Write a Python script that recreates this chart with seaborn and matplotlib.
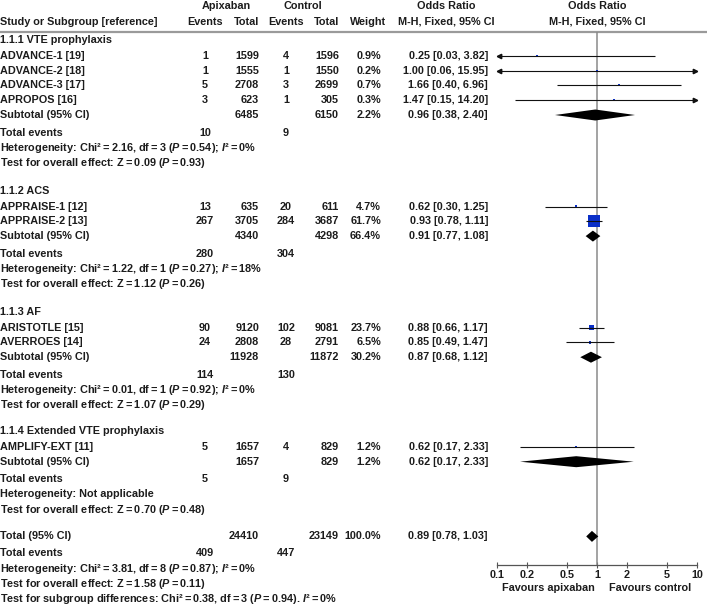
import matplotlib
matplotlib.use("Agg")
import matplotlib.pyplot as plt
import numpy as np
import pandas as pd
import seaborn as sns

# ---- data ----
group_names = [
    "1.1.1 VTE prophylaxis",
    "1.1.2 ACS",
    "1.1.3 AF",
    "1.1.4 Extended VTE prophylaxis",
]
study_names = [
    "ADVANCE-1 [19]", "ADVANCE-2 [18]", "ADVANCE-3 [17]", "APROPOS [16]",
    "APPRAISE-1 [12]", "APPRAISE-2 [13]",
    "ARISTOTLE [15]", "AVERROES [14]",
    "AMPLIFY-EXT [11]",
]
study_group = [0, 0, 0, 0, 1, 1, 2, 2, 3]
apix_events = [1, 1, 5, 3, 13, 267, 90, 24, 5]
apix_total = [1599, 1555, 2708, 623, 635, 3705, 9120, 2808, 1657]
ctrl_events = [4, 1, 3, 1, 20, 284, 102, 28, 4]
ctrl_total = [1596, 1550, 2699, 305, 611, 3687, 9081, 2791, 829]
weights = [0.9, 0.2, 0.7, 0.3, 4.7, 61.7, 23.7, 6.5, 1.2]
odds = [0.25, 1.00, 1.66, 1.47, 0.62, 0.93, 0.88, 0.85, 0.62]
ci_low = [0.03, 0.06, 0.40, 0.15, 0.30, 0.78, 0.66, 0.49, 0.17]
ci_high = [3.82, 15.95, 6.96, 14.20, 1.25, 1.11, 1.17, 1.47, 2.33]

sub_apix_total = [6485, 4340, 11928, 1657]
sub_ctrl_total = [6150, 4298, 11872, 829]
sub_apix_events = [10, 280, 114, 5]
sub_ctrl_events = [9, 304, 130, 9]
sub_weight = [2.2, 66.4, 30.2, 1.2]
sub_odds = [0.96, 0.91, 0.87, 0.62]
sub_low = [0.38, 0.77, 0.68, 0.17]
sub_high = [2.40, 1.08, 1.12, 2.33]
het_chi = [2.16, 1.22, 0.01, None]
het_df = [3, 1, 1, None]
het_p = [0.54, 0.27, 0.92, None]
het_i2 = [0, 18, 0, None]
z_val = [0.09, 1.12, 1.07, 0.70]
z_p = [0.93, 0.26, 0.29, 0.48]

total_apix, total_ctrl = 24410, 23149
total_apix_events, total_ctrl_events = 409, 447
total_odds, total_low, total_high = 0.89, 0.78, 1.03
total_het = (3.81, 8, 0.87, 0)
total_z = (1.58, 0.11)
subgroup_diff = (0.38, 3, 0.94, 0)

x_ticks = [0.1, 0.2, 0.5, 1, 2, 5, 10]
x_tick_labels = ["0.1", "0.2", "0.5", "1", "2", "5", "10"]

# ---- style ----
W, H = 707, 605
FS = 7.8
TXT = "#1c1c1c"
BLUE = "#0a2fc8"
GRID = "#8a8a8a"
FONT = "Liberation Sans"
EQ = "\u2009=\u2009"

sns.set_theme(style="white")
plt.rcParams["font.family"] = [FONT, "DejaVu Sans"]
plt.rcParams["mathtext.fontset"] = "custom"
plt.rcParams["mathtext.rm"] = FONT + ":bold"
plt.rcParams["mathtext.it"] = FONT + ":italic:bold"
plt.rcParams["mathtext.bf"] = FONT + ":bold"

# column anchors in pixels
X_AE, X_AT, X_CE, X_CT, X_WT, X_OR = 205, 259, 286, 339, 381, 488
PLOT_L, PLOT_R, PLOT_TOP, PLOT_BOT = 497, 697, 32, 565


def build_rows():
    """Assign a vertical pixel position to every row of the table."""
    gaps = [27.8, 27.8, 26.0, 26.8]
    rows = []
    y = 40.0
    for g in range(len(group_names)):
        rows.append(("group", g, y))
        y += 15.8
        for i, sg in enumerate(study_group):
            if sg == g:
                rows.append(("study", i, y))
                y += 14.8
        rows.append(("subtotal", g, y))
        y += 17.5
        rows.append(("events", g, y))
        y += 15.2
        rows.append(("het", g, y))
        y += 15.2
        rows.append(("z", g, y))
        y += gaps[g]
    rows.append(("total", None, y))
    y += 17.0
    for kind in ("tevents", "thet", "tz", "tdiff"):
        rows.append((kind, None, y))
        y += 15.2
    return rows


def het_string(chi, df, p, i2):
    return f"Chi\u00b2{EQ}{chi:.2f}, df{EQ}{df} ($P${EQ}{p:.2f}); $I$\u00b2{EQ}{i2}%"


def or_string(o, lo, hi):
    return f"{o:.2f} [{lo:.2f}, {hi:.2f}]"


fig = plt.figure(figsize=(W / 100, H / 100), dpi=100)
ax_txt = fig.add_axes([0, 0, 1, 1])
ax_txt.set_xlim(0, W)
ax_txt.set_ylim(H, 0)
ax_txt.axis("off")

ax = fig.add_axes([PLOT_L / W, 1 - PLOT_BOT / H,
                   (PLOT_R - PLOT_L) / W, (PLOT_BOT - PLOT_TOP) / H])
ax.set_xscale("log")
ax.set_xlim(0.1, 10)
ax.set_ylim(PLOT_BOT, PLOT_TOP)
ax.patch.set_alpha(0)


def put(x, y, s, ha="left", w="bold"):
    ax_txt.text(x, y, s, fontsize=FS, fontweight=w, color=TXT, ha=ha, va="center")


# ---- headers ----
put(226, 6, "Apixaban", "center")
put(303, 6, "Control", "center")
put(446, 6, "Odds Ratio", "center")
put(597, 6, "Odds Ratio", "center")
put(0, 22, "Study or Subgroup [reference]")
put(X_AE, 22, "Events", "center")
put(X_AT, 22, "Total", "right")
put(X_CE, 22, "Events", "center")
put(X_CT, 22, "Total", "right")
put(X_WT + 5, 22, "Weight", "right")
put(446, 22, "M-H, Fixed, 95% CI", "center")
put(597, 22, "M-H, Fixed, 95% CI", "center")
ax_txt.axhline(PLOT_TOP, color="#9a9a9a", lw=1.6)

rows = build_rows()
study_y = {}
sub_y = {}
total_y = None

for kind, idx, y in rows:
    if kind == "group":
        put(0, y, group_names[idx])
    elif kind == "study":
        study_y[idx] = y
        put(0, y, study_names[idx])
        put(X_AE, y, str(apix_events[idx]), "center")
        put(X_AT, y, str(apix_total[idx]), "right")
        put(X_CE, y, str(ctrl_events[idx]), "center")
        put(X_CT, y, str(ctrl_total[idx]), "right")
        put(X_WT, y, f"{weights[idx]:.1f}%", "right")
        put(X_OR, y, or_string(odds[idx], ci_low[idx], ci_high[idx]), "right")
    elif kind == "subtotal":
        sub_y[idx] = y
        put(0, y, "Subtotal (95% CI)")
        put(X_AT, y, str(sub_apix_total[idx]), "right")
        put(X_CT, y, str(sub_ctrl_total[idx]), "right")
        put(X_WT, y, f"{sub_weight[idx]:.1f}%", "right")
        put(X_OR, y, or_string(sub_odds[idx], sub_low[idx], sub_high[idx]), "right")
    elif kind == "events":
        put(0, y, "Total events")
        put(X_AE, y, str(sub_apix_events[idx]), "center")
        put(X_CE, y, str(sub_ctrl_events[idx]), "center")
    elif kind == "het":
        if het_chi[idx] is None:
            put(0, y, "Heterogeneity: Not applicable")
        else:
            put(0, y, "Heterogeneity: " + het_string(het_chi[idx], het_df[idx], het_p[idx], het_i2[idx]))
    elif kind == "z":
        put(0, y, f"Test for overall effect: Z{EQ}{z_val[idx]:.2f} ($P${EQ}{z_p[idx]:.2f})")
    elif kind == "total":
        total_y = y
        put(0, y, "Total (95% CI)")
        put(X_AT, y, str(total_apix), "right")
        put(X_CT, y, str(total_ctrl), "right")
        put(X_WT, y, "100.0%", "right")
        put(X_OR, y, or_string(total_odds, total_low, total_high), "right")
    elif kind == "tevents":
        put(0, y, "Total events")
        put(X_AE, y, str(total_apix_events), "center")
        put(X_CE, y, str(total_ctrl_events), "center")
    elif kind == "thet":
        put(0, y, "Heterogeneity: " + het_string(*total_het))
    elif kind == "tz":
        put(0, y, f"Test for overall effect: Z{EQ}{total_z[0]:.2f} ($P${EQ}{total_z[1]:.2f})")
    elif kind == "tdiff":
        c, d, p, i2 = subgroup_diff
        put(0, y, f"Test for subgroup differences: Chi\u00b2{EQ}{c:.2f}, df{EQ}{d} "
                  f"($P${EQ}{p:.2f}). $I$\u00b2{EQ}{i2}%")

# ---- forest panel ----
ax.axvline(1, color=GRID, lw=1.1, zorder=1)

st = pd.DataFrame({
    "odds": odds, "low": ci_low, "high": ci_high, "weight": weights,
    "y": [study_y[i] for i in range(len(study_names))],
})
# square side grows with study weight (points^2 for scatter)
side_px = np.maximum(2.2, 0.195 * st["weight"].to_numpy())
st["area"] = (side_px * 0.72) ** 2
amin, amax = st["area"].min(), st["area"].max()
sns.scatterplot(data=st, x="odds", y="y", size="area", sizes=(amin, amax),
                size_norm=(amin, amax), marker="s", color=BLUE, edgecolor=BLUE,
                linewidth=0, legend=False, ax=ax, zorder=2, clip_on=False)

lo_c = st["low"].clip(lower=0.1)
hi_c = st["high"].clip(upper=10)
ax.hlines(st["y"], lo_c, hi_c, color="#111111", lw=0.8, zorder=3)
left_cut = st[st["low"] < 0.1]
right_cut = st[st["high"] > 10]
ax.plot(np.full(len(left_cut), 0.104), left_cut["y"], ls="none", marker="<",
        ms=3.2, color="#111111", clip_on=False, zorder=3)
ax.plot(np.full(len(right_cut), 9.6), right_cut["y"], ls="none", marker=">",
        ms=3.2, color="#111111", clip_on=False, zorder=3)

HALF = 5.5
diamonds = [(sub_odds[g], sub_low[g], sub_high[g], sub_y[g]) for g in range(len(group_names))]
diamonds.append((total_odds, total_low, total_high, total_y))
for o, lo, hi, y in diamonds:
    ax.fill([lo, o, hi, o], [y, y - HALF, y, y + HALF], color="black", lw=0, zorder=3)

for side in ("top", "left", "right"):
    ax.spines[side].set_visible(False)
ax.spines["bottom"].set_color("#555555")
ax.spines["bottom"].set_linewidth(0.9)
ax.set_yticks([])
ax.set_xticks(x_ticks)
ax.set_xticklabels(x_tick_labels)
ax.xaxis.set_minor_locator(matplotlib.ticker.NullLocator())
ax.tick_params(axis="x", bottom=True, length=4, width=0.8, direction="inout",
               color="#555555", pad=1.5, labelsize=FS, labelcolor=TXT)
for lab in ax.get_xticklabels():
    lab.set_fontweight("bold")
ax.set_xlabel("")
ax.set_ylabel("")

put(548, 588, "Favours apixaban", "center")
put(650, 588, "Favours control", "center")

fig.savefig("out.png", dpi=100)
